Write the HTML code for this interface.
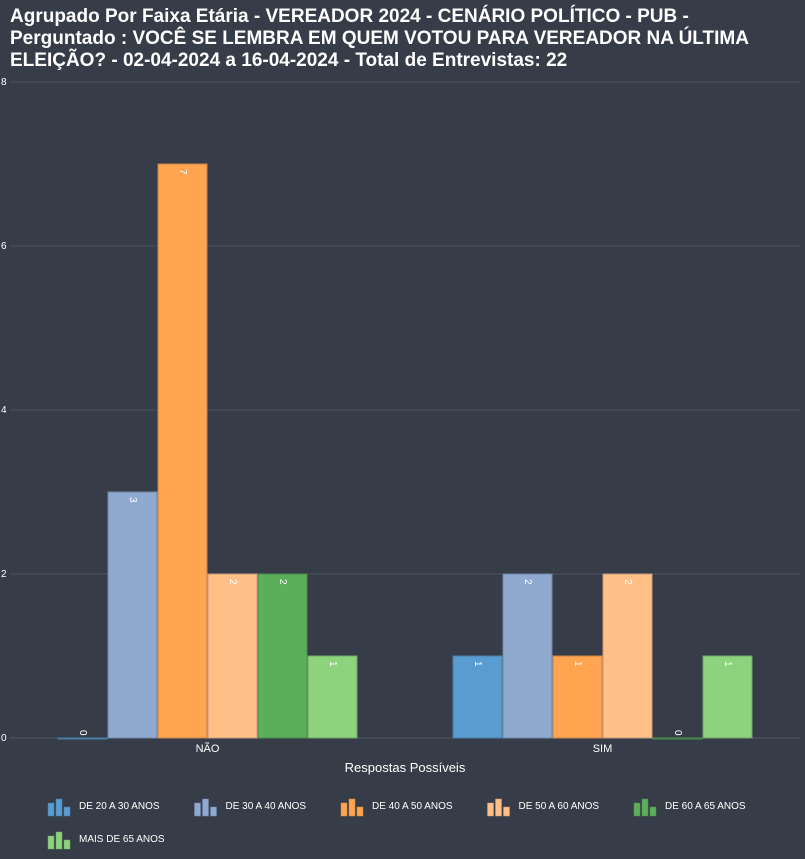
<!DOCTYPE html>
<html><head><meta charset="utf-8"><style>
body{margin:0;background:#363d48;width:805px;height:859px;overflow:hidden;font-family:"Liberation Sans",sans-serif;color:#fff}
#title{position:absolute;left:10px;top:6px;font-size:19px;font-weight:bold;line-height:22px;width:795px;white-space:nowrap}
svg{position:absolute;left:0;top:0}
</style></head><body>
<div id="title">Agrupado Por Faixa Etária - VEREADOR 2024 - CENÁRIO POLÍTICO - PUB -<br>Perguntado : VOCÊ SE LEMBRA EM QUEM VOTOU PARA VEREADOR NA ÚLTIMA<br>ELEIÇÃO? - 02-04-2024 a 16-04-2024 - Total de Entrevistas: 22</div>
<svg id="chart" width="805" height="859"></svg>
<script>
const categories=["NÃO","SIM"];
const seriesNames=["DE 20 A 30 ANOS","DE 30 A 40 ANOS","DE 40 A 50 ANOS","DE 50 A 60 ANOS","DE 60 A 65 ANOS","MAIS DE 65 ANOS"];
const s20_30=[0,1];
const s30_40=[3,2];
const s40_50=[7,1];
const s50_60=[2,2];
const s60_65=[2,0];
const s65plus=[1,1];
const yTicks=[0,2,4,6,8];
const series=[s20_30,s30_40,s40_50,s50_60,s60_65,s65plus];
const colors=["#5a9ccf","#8fa9cf","#ffa552","#ffbf87","#5caf5a","#8dd27d"];
const strokes=["#4a7ea8","#6f86a8","#c98548","#c9997a","#4b8a4a","#6fa565"];
const NS="http://www.w3.org/2000/svg";
const svg=document.getElementById('chart');
const x0=10,x1=800,yZero=738,yTop=82,yMax=8;
const band=(x1-x0)/categories.length,barW=50;
function y(v){return yZero-(v/yMax)*(yZero-yTop);}
function bx(ci,si){return x0+band*ci+band/2-barW*series.length/2+si*barW;}
function mk(t,a){const e=document.createElementNS(NS,t);for(const k in a)e.setAttribute(k,a[k]);svg.appendChild(e);return e;}
yTicks.forEach(t=>{
 const g=mk('line',{x1:x0,x2:x1,y1:y(t),y2:y(t),stroke:t===0?'#4d5560':'#4a525d','stroke-width':1});
 
 
 const l=mk('text',{x:1,y:y(t)+3,'font-size':10,fill:'#fff'});l.textContent=t;
 
 
});
categories.forEach((c,ci)=>{
 const l=mk('text',{x:x0+band*ci+band/2,y:752,'font-size':11,fill:'#fff','text-anchor':'middle'});l.textContent=c;
 
 
 series.forEach((s,si)=>{
  const v=s[ci],X=bx(ci,si),Y=y(v);
  const r=mk('rect',{x:X+0.5,y:Y,width:barW-1,height:Math.max(yZero-Y,1),fill:colors[si],stroke:strokes[si],'stroke-width':1});
  
  
  const ty=v===0?Y-8:Y+5,tx=X+barW/2;
  const t=mk('text',{x:tx,y:ty,'font-size':10,fill:'#fff','text-anchor':'start','dominant-baseline':'central',transform:`rotate(90 ${tx} ${ty})`});
  t.textContent=v;
  
  
 });
});
const at=mk('text',{x:405,y:772,'font-size':13,fill:'#fff','text-anchor':'middle'});at.textContent="Respostas Possíveis";


seriesNames.forEach((n,i)=>{
 const row=i<5?0:1,col=i<5?i:0;
 const lx=48+col*146.5,ly=row?838:805;
 const g=document.createElementNS(NS,'g');svg.appendChild(g);
 
 
 [[0,7,6],[8,11,6],[16,4,6]].forEach(([dx,h,w])=>{
  const r=document.createElementNS(NS,'rect');
  r.setAttribute('x',lx+dx);r.setAttribute('y',ly+(h===11?-6:h===7?-2:2));r.setAttribute('width',w);r.setAttribute('height',h===11?17:h===7?13:9);
  r.setAttribute('fill',colors[i]);r.setAttribute('stroke',strokes[i]);r.setAttribute('stroke-width',0.5);g.appendChild(r);
 });
 const t=document.createElementNS(NS,'text');t.setAttribute('x',lx+31);t.setAttribute('y',ly+4);t.setAttribute('font-size',10);t.setAttribute('fill','#fff');t.textContent=n;g.appendChild(t);
});
</script>
</body></html>
